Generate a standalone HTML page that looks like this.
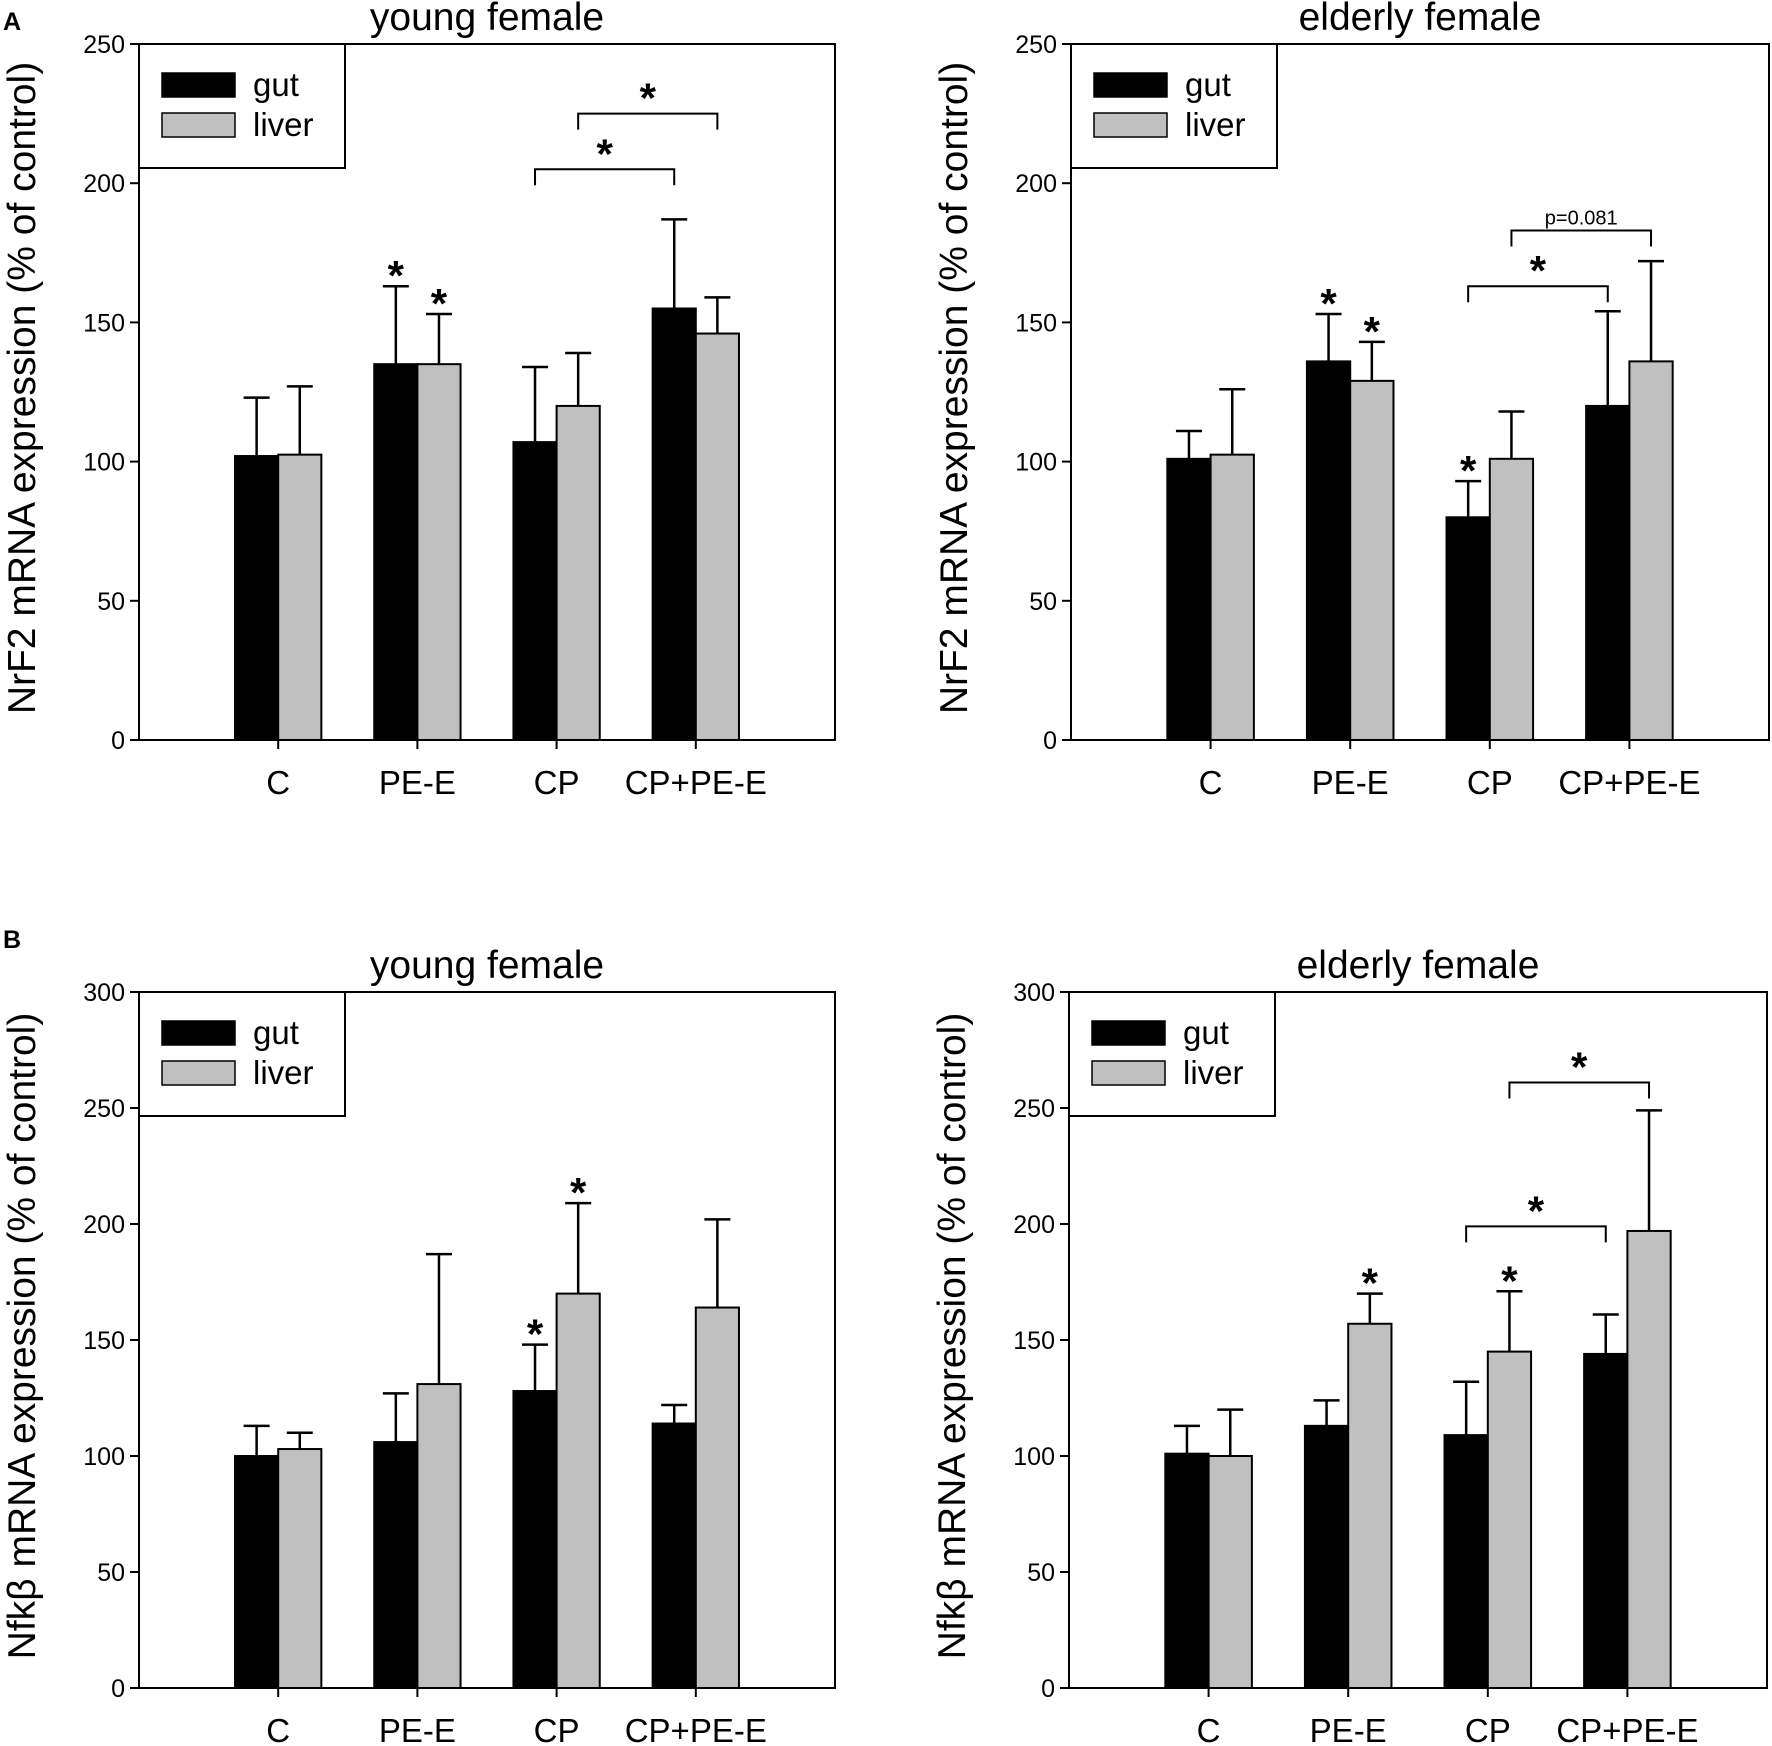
<!DOCTYPE html>
<html><head><meta charset="utf-8"><style>
html,body{margin:0;padding:0;background:#fff}
svg{display:block;font-family:"Liberation Sans",Arial,sans-serif}
</style></head><body>
<svg id="fig" width="1772" height="1746" viewBox="0 0 1772 1746" xmlns="http://www.w3.org/2000/svg">
<text x="3" y="30" font-size="25" font-weight="bold">A</text>
<text x="3" y="948" font-size="25" font-weight="bold">B</text>
</svg>
<script>
const categories = ["C", "PE-E", "CP", "CP+PE-E"];
// NrF2 young female
const aYoungGut = [102, 135, 107, 155];
const aYoungGutErr = [123, 163, 134, 187];
const aYoungLiver = [102.5, 135, 120, 146];
const aYoungLiverErr = [127, 153, 139, 159];
// NrF2 elderly female
const aOldGut = [101, 136, 80, 120];
const aOldGutErr = [111, 153, 93, 154];
const aOldLiver = [102.5, 129, 101, 136];
const aOldLiverErr = [126, 143, 118, 172];
// Nfkb young female
const bYoungGut = [100, 106, 128, 114];
const bYoungGutErr = [113, 127, 148, 122];
const bYoungLiver = [103, 131, 170, 164];
const bYoungLiverErr = [110, 187, 209, 202];
// Nfkb elderly female
const bOldGut = [101, 113, 109, 144];
const bOldGutErr = [113, 124, 132, 161];
const bOldLiver = [100, 157, 145, 197];
const bOldLiverErr = [120, 170, 171, 249];
// significance stars: [series(0 gut,1 liver), category index]
const aYoungStars = [[0,1],[1,1]];
const aOldStars = [[0,1],[1,1],[0,2]];
const bYoungStars = [[0,2],[1,2]];
const bOldStars = [[1,1],[1,2]];
// brackets: [fromSeries, fromCat, toSeries, toCat, value, label]
const aYoungBrackets = [[0,2,0,3,205,"*"],[1,2,1,3,225,"*"]];
const aOldBrackets = [[0,2,0,3,163,"*"],[1,2,1,3,183,"p=0.081"]];
const bYoungBrackets = [];
const bOldBrackets = [[0,2,0,3,199,"*"],[1,2,1,3,261,"*"]];
const aTicks = [0, 50, 100, 150, 200, 250];
const bTicks = [0, 50, 100, 150, 200, 250, 300];

const NS = "http://www.w3.org/2000/svg";
const svg = document.getElementById('fig');
function mk(tag, attrs, parent, text) {
  const e = document.createElementNS(NS, tag);
  for (const k in attrs) e.setAttribute(k, attrs[k]);
  if (text !== undefined) e.textContent = text;
  (parent || svg).appendChild(e);
  return e;
}

function panel(o) {
  const g = mk('g', {});
  
  
  const L = o.left, R = o.right, T = o.top, B = o.bottom;
  const ymax = o.ticks[o.ticks.length - 1];
  const y = v => B - v / ymax * (B - T);
  const slot = (R - L) / 5;
  const cx = i => L + (i + 1) * slot;
  const bw = slot * 0.31;
  const barC = (s, i) => cx(i) + (s === 0 ? -bw / 2 : bw / 2);

  const title = mk('text', {x: (L + R) / 2, y: T - 14, 'font-size': 39, 'text-anchor': 'middle'}, g, o.title);
  
  

  const frame = mk('rect', {x: L, y: T, width: R - L, height: B - T, fill: 'none', stroke: '#000', 'stroke-width': 2}, g);
  
  

  o.ticks.forEach(t => {
    const tl = mk('line', {x1: L - 9, x2: L, y1: y(t), y2: y(t), stroke: '#000', 'stroke-width': 2}, g);
    
    
    const tx = mk('text', {x: L - 14, y: y(t) + 9, 'font-size': 25, 'text-anchor': 'end'}, g, t);
    
    
  });
  const yt = mk('text', {x: 0, y: 0, 'font-size': 39, 'text-anchor': 'middle', transform: `translate(${L - 104},${(T + B) / 2 - 4}) rotate(-90)`}, g, o.ytitle);
  
  

  categories.forEach((c, i) => {
    const tl = mk('line', {x1: cx(i), x2: cx(i), y1: B, y2: B + 9, stroke: '#000', 'stroke-width': 2}, g);
    
    
    const tx = mk('text', {x: cx(i), y: B + 54, 'font-size': 33, 'text-anchor': 'middle'}, g, c);
    
    
  });

  const series = [[o.gut, o.gutErr, '#000'], [o.liver, o.liverErr, '#c0c0c0']];
  series.forEach((s, si) => {
    s[0].forEach((v, i) => {
      const c = barC(si, i);
      const eb = mk('line', {x1: c, x2: c, y1: y(s[1][i]), y2: y(v), stroke: '#000', 'stroke-width': 2.5}, g);
      
      
      const cap = mk('line', {x1: c - 13, x2: c + 13, y1: y(s[1][i]), y2: y(s[1][i]), stroke: '#000', 'stroke-width': 2.5}, g);
      
      
      const r = mk('rect', {x: c - bw / 2, y: y(v), width: bw, height: B - y(v), fill: s[2], stroke: '#000', 'stroke-width': 2}, g);
      
      
    });
  });

  o.stars.forEach(st => {
    const s = st[0], i = st[1];
    const top = (s === 0 ? o.gutErr : o.liverErr)[i];
    const tx = mk('text', {x: barC(s, i), y: y(top) + 4, 'font-size': 42, 'font-weight': 'bold', 'text-anchor': 'middle'}, g, '*');
    
    
  });

  o.brackets.forEach(b => {
    const x1 = barC(b[0], b[1]), x2 = barC(b[2], b[3]), yy = y(b[4]);
    const p = mk('path', {d: `M${x1},${yy + 16}V${yy}H${x2}V${yy + 16}`, fill: 'none', stroke: '#000', 'stroke-width': 2}, g);
    
    
    const isStar = b[5] === '*';
    const tx = mk('text', {x: (x1 + x2) / 2, y: isStar ? yy - 1 : yy - 6, 'font-size': isStar ? 42 : 20, 'font-weight': isStar ? 'bold' : 'normal', 'text-anchor': 'middle'}, g, b[5]);
    
    
  });

  const lg = mk('g', {}, g);
  
  
  mk('rect', {x: L, y: T, width: 206, height: 124, fill: '#fff', stroke: '#000', 'stroke-width': 2}, lg);
  [['gut', '#000'], ['liver', '#c0c0c0']].forEach((e, k) => {
    const sw = mk('rect', {x: L + 23, y: T + 29 + k * 40, width: 73, height: 24, fill: e[1], stroke: '#000', 'stroke-width': 1.5}, lg);
    
    
    const tx = mk('text', {x: L + 114, y: T + 52 + k * 40, 'font-size': 33}, lg, e[0]);
    
    
  });
}

panel({name: 'chart-nrf2-young', title: 'young female', ytitle: 'NrF2 mRNA expression (% of control)', left: 139, right: 835, top: 44, bottom: 740, ticks: aTicks,
  gut: aYoungGut, gutErr: aYoungGutErr, liver: aYoungLiver, liverErr: aYoungLiverErr, stars: aYoungStars, brackets: aYoungBrackets});
panel({name: 'chart-nrf2-elderly', title: 'elderly female', ytitle: 'NrF2 mRNA expression (% of control)', left: 1071, right: 1769, top: 44, bottom: 740, ticks: aTicks,
  gut: aOldGut, gutErr: aOldGutErr, liver: aOldLiver, liverErr: aOldLiverErr, stars: aOldStars, brackets: aOldBrackets});
panel({name: 'chart-nfkb-young', title: 'young female', ytitle: 'Nfkβ mRNA expression (% of control)', left: 139, right: 835, top: 992, bottom: 1688, ticks: bTicks,
  gut: bYoungGut, gutErr: bYoungGutErr, liver: bYoungLiver, liverErr: bYoungLiverErr, stars: bYoungStars, brackets: bYoungBrackets});
panel({name: 'chart-nfkb-elderly', title: 'elderly female', ytitle: 'Nfkβ mRNA expression (% of control)', left: 1069, right: 1767, top: 992, bottom: 1688, ticks: bTicks,
  gut: bOldGut, gutErr: bOldGutErr, liver: bOldLiver, liverErr: bOldLiverErr, stars: bOldStars, brackets: bOldBrackets});
</script>
</body></html>
